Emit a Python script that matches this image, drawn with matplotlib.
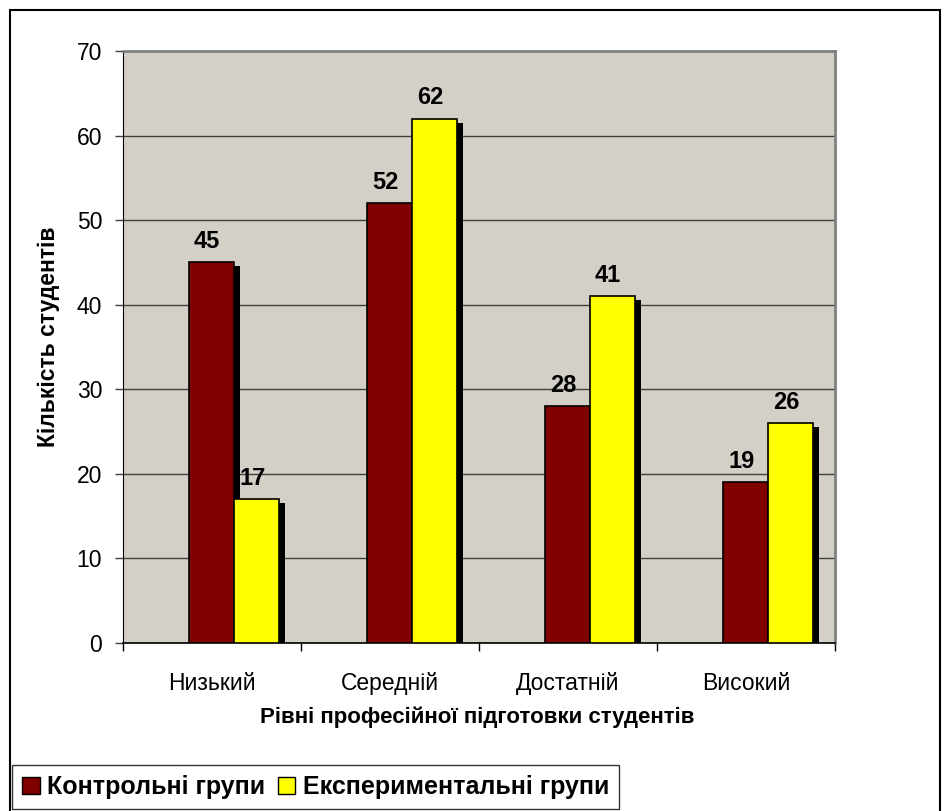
import matplotlib
matplotlib.use("Agg")
import matplotlib.pyplot as plt
from matplotlib.patches import Rectangle, Patch
import numpy as np

plt.rcParams["font.family"] = ["Liberation Sans", "DejaVu Sans"]

levels = ["Низький", "Середній", "Достатній", "Високий"]
control = [45, 52, 28, 19]
experimental = [17, 62, 41, 26]
series_names = ["Контрольні групи", "Експериментальні групи"]

RED = "#800000"
YELLOW = "#FFFF00"
BG = "#D4D0C8"

fig = plt.figure(figsize=(9.5, 8.11), dpi=100)
ax = fig.add_axes([0.1295, 0.2072, 0.7495, 0.7299])
ax.set_facecolor(BG)

x = np.arange(len(levels))
w = 0.253
shift = 0.124
sdx, sdy = 0.034, 0.47

# shadows first
for xs, vals in ((x + shift - w / 2, control), (x + shift + w / 2, experimental)):
    ax.bar(xs + sdx, np.array(vals) - sdy, w, color="black", zorder=2)

ax.bar(x + shift - w / 2, control, w, color=RED, edgecolor="black", linewidth=1.2, zorder=3)
ax.bar(x + shift + w / 2, experimental, w, color=YELLOW, edgecolor="black", linewidth=1.2, zorder=3)

for xs, vals in ((x + shift - w / 2, control), (x + shift + w / 2, experimental)):
    for xi, v in zip(xs, vals):
        ax.text(xi - 0.025, v + 1.1, str(v), ha="center", va="bottom",
                fontsize=17, fontweight="bold", zorder=4)

ax.set_xlim(-0.5, 3.5)
ax.set_ylim(0, 70)
ax.set_yticks(range(0, 71, 10))
ax.yaxis.grid(True, color="#404040", linewidth=1)
ax.set_axisbelow(True)

ax.set_xticks(x)
ax.set_xticklabels(levels, fontsize=16.5)
ax.set_xticks(np.arange(-0.5, 4.0, 1.0), minor=True)
ax.tick_params(axis="x", which="major", length=0, pad=21)
ax.tick_params(axis="x", which="minor", length=6, width=1, color="black")
ax.tick_params(axis="y", length=6, width=1, pad=9, labelsize=16.5, color="#404040")

for side in ("top", "right"):
    ax.spines[side].set_color("#808080")
    ax.spines[side].set_linewidth(2)
ax.spines["left"].set_color("black")
ax.spines["bottom"].set_color("black")
ax.spines["bottom"].set_linewidth(1.2)

fig.text(0.051, 1 - 337 / 811, "Кількість студентів", rotation=90, ha="center", va="center",
         fontsize=16.5, fontweight="bold")
fig.text(0.502, 1 - 717 / 811, "Рівні професійної підготовки студентів", ha="center",
         va="center", fontsize=16, fontweight="bold")

# outer chart border
fig.patches.append(Rectangle((10 / 950, -0.01), 930 / 950, 1 - 10 / 811 + 0.01,
                             transform=fig.transFigure, fill=False,
                             edgecolor="black", linewidth=1.5))

handles = [Patch(facecolor=RED, edgecolor="black"), Patch(facecolor=YELLOW, edgecolor="black")]
leg = fig.legend(handles, series_names, loc="lower left", bbox_to_anchor=(12 / 950, 2 / 811),
                 ncol=2, frameon=True, fancybox=False,
                 prop={"weight": "bold", "size": 18}, handlelength=0.7, handleheight=0.7,
                 handletextpad=0.3, columnspacing=0.5, borderpad=0.4, borderaxespad=0)
leg.get_frame().set_edgecolor("black")
leg.get_frame().set_linewidth(1)

fig.savefig("out.png", dpi=100)
